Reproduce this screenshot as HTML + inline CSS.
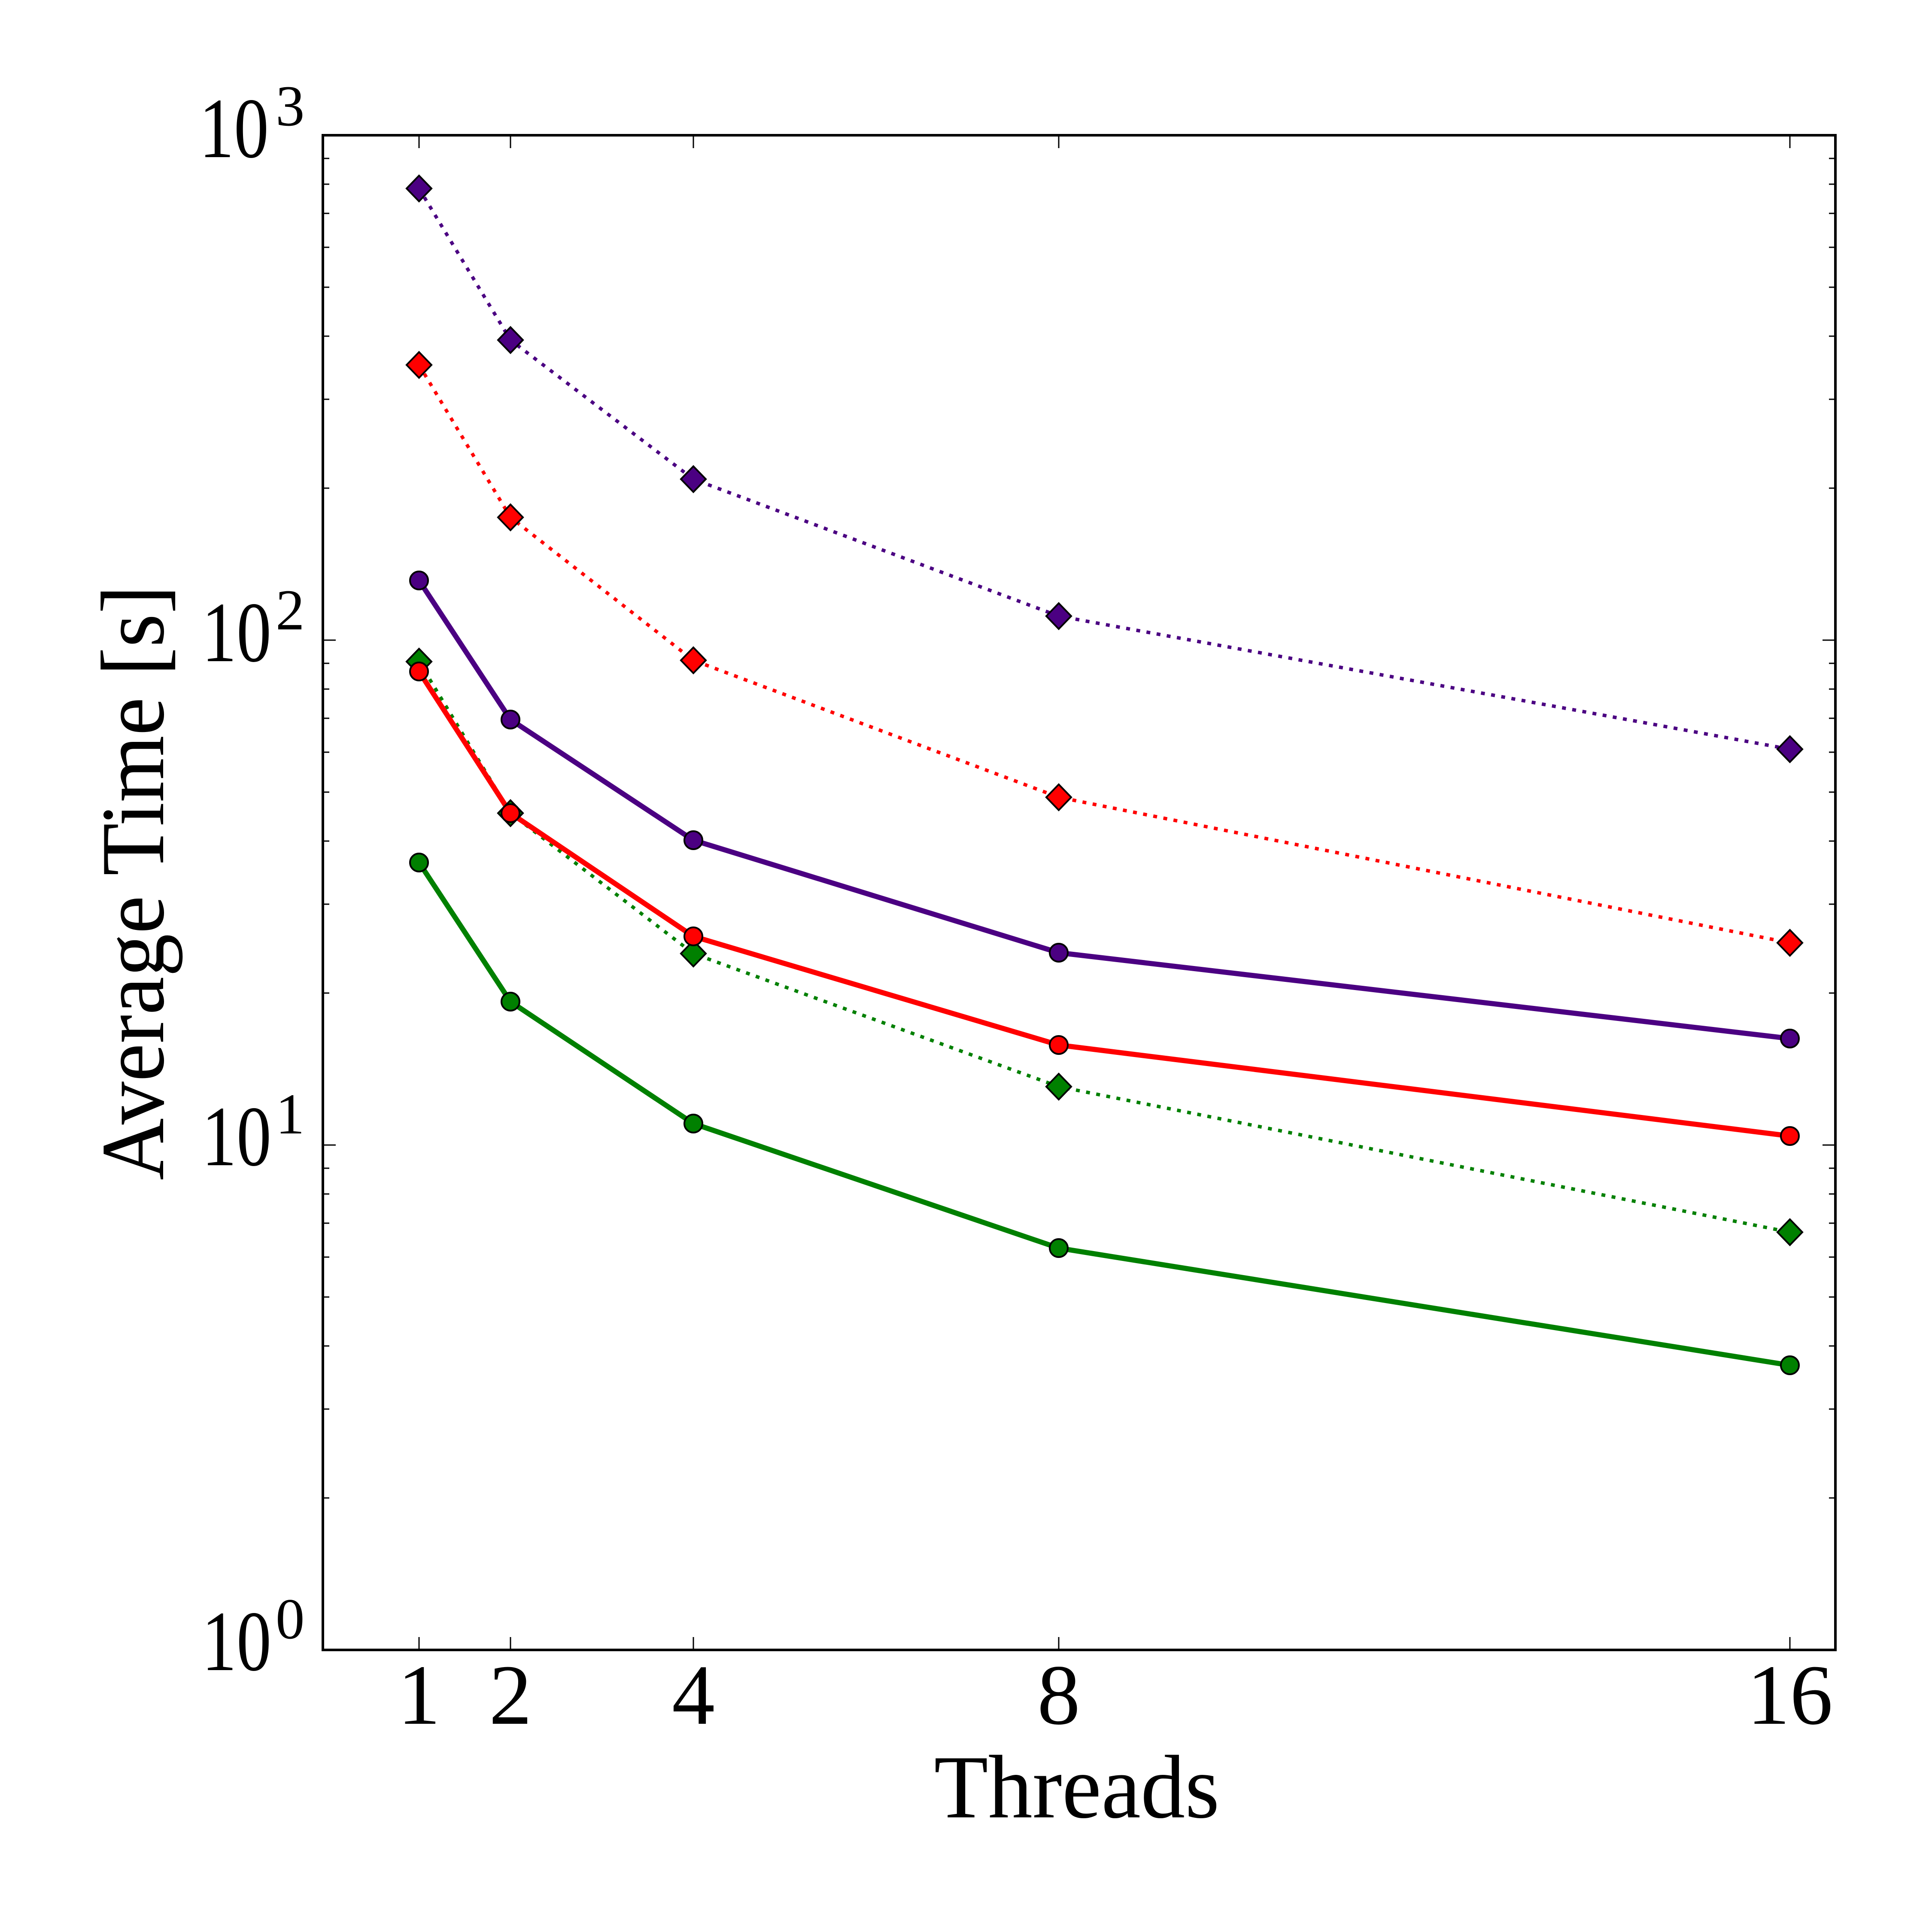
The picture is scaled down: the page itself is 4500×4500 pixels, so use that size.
<!DOCTYPE html>
<html><head><meta charset="utf-8"><style>html,body{margin:0;padding:0;background:#fff}svg{display:block}</style></head>
<body>
<svg xmlns="http://www.w3.org/2000/svg" width="4500" height="4500" viewBox="0 0 4500 4500">
<rect width="4500" height="4500" fill="#fff"/>
<defs>
<path id="dm" d="M0,-30 L29,0 L0,30 L-29,0 Z"/>
</defs>
<g fill="none" stroke-linejoin="round">
<polyline points="976,439 1189,792 1615,1116 2466,1435 4169,1745" stroke="#4B0082" stroke-width="8" stroke-dasharray="9,15"/>
<polyline points="976,850 1189,1205 1615,1538 2466,1857 4169,2196" stroke="#FF0000" stroke-width="8" stroke-dasharray="9,15"/>
<polyline points="976,1541 1189,1894 1615,2221 2466,2531 4169,2870" stroke="#008000" stroke-width="8" stroke-dasharray="9,15"/>
<polyline points="976,1352 1189,1676 1615,1957 2466,2219 4169,2419" stroke="#4B0082" stroke-width="12"/>
<polyline points="976,1564 1189,1894 1615,2181 2466,2434 4169,2646" stroke="#FF0000" stroke-width="12"/>
<polyline points="976,2009 1189,2333 1615,2617 2466,2907 4169,3180" stroke="#008000" stroke-width="12"/>
</g>
<g stroke="#000" stroke-width="4">
<g fill="#4B0082"><use href="#dm" x="976" y="439"/><use href="#dm" x="1189" y="792"/><use href="#dm" x="1615" y="1116"/><use href="#dm" x="2466" y="1435"/><use href="#dm" x="4169" y="1745"/></g>
<g fill="#FF0000"><use href="#dm" x="976" y="850"/><use href="#dm" x="1189" y="1205"/><use href="#dm" x="1615" y="1538"/><use href="#dm" x="2466" y="1857"/><use href="#dm" x="4169" y="2196"/></g>
<g fill="#008000"><use href="#dm" x="976" y="1541"/><use href="#dm" x="1189" y="1894"/><use href="#dm" x="1615" y="2221"/><use href="#dm" x="2466" y="2531"/><use href="#dm" x="4169" y="2870"/></g>
<g fill="#4B0082"><circle cx="976" cy="1352" r="21"/><circle cx="1189" cy="1676" r="21"/><circle cx="1615" cy="1957" r="21"/><circle cx="2466" cy="2219" r="21"/><circle cx="4169" cy="2419" r="21"/></g>
<g fill="#FF0000"><circle cx="976" cy="1564" r="21"/><circle cx="1189" cy="1894" r="21"/><circle cx="1615" cy="2181" r="21"/><circle cx="2466" cy="2434" r="21"/><circle cx="4169" cy="2646" r="21"/></g>
<g fill="#008000"><circle cx="976" cy="2009" r="21"/><circle cx="1189" cy="2333" r="21"/><circle cx="1615" cy="2617" r="21"/><circle cx="2466" cy="2907" r="21"/><circle cx="4169" cy="3180" r="21"/></g>
</g>
<g stroke="#000" stroke-width="3">
<path d="M976,3843v-30M1189,3843v-30M1615,3843v-30M2466,3843v-30M4169,3843v-30M976,315v30M1189,315v30M1615,315v30M2466,315v30M4169,315v30"/>
<path d="M752,315h30M752,1491h30M752,2667h30M752,3843h30M4275,315h-30M4275,1491h-30M4275,2667h-30M4275,3843h-30"/>
<path d="M752,3489h15M752,3282h15M752,3135h15M752,3021h15M752,2928h15M752,2849h15M752,2781h15M752,2721h15M752,2313h15M752,2106h15M752,1959h15M752,1845h15M752,1752h15M752,1673h15M752,1605h15M752,1545h15M752,1137h15M752,930h15M752,783h15M752,669h15M752,576h15M752,497h15M752,429h15M752,369h15"/>
<path d="M4275,3489h-15M4275,3282h-15M4275,3135h-15M4275,3021h-15M4275,2928h-15M4275,2849h-15M4275,2781h-15M4275,2721h-15M4275,2313h-15M4275,2106h-15M4275,1959h-15M4275,1845h-15M4275,1752h-15M4275,1673h-15M4275,1605h-15M4275,1545h-15M4275,1137h-15M4275,930h-15M4275,783h-15M4275,669h-15M4275,576h-15M4275,497h-15M4275,429h-15M4275,369h-15"/>
</g>
<rect x="752" y="315" width="3523" height="3528" fill="none" stroke="#000" stroke-width="6"/>
<g font-family="Liberation Serif, serif" fill="#000">
<g font-size="200">
<text x="464" y="366" textLength="162" lengthAdjust="spacingAndGlyphs">10</text>
<text x="470" y="1540" textLength="162" lengthAdjust="spacingAndGlyphs">10</text>
<text x="470" y="2714" textLength="162" lengthAdjust="spacingAndGlyphs">10</text>
<text x="470" y="3890" textLength="162" lengthAdjust="spacingAndGlyphs">10</text>
</g>
<g font-size="135">
<text x="642" y="292">3</text>
<text x="642" y="1466">2</text>
<text x="642" y="2640">1</text>
<text x="642" y="3816">0</text>
</g>
<g font-size="200" text-anchor="middle">
<text x="976" y="4015">1</text>
<text x="1189" y="4015">2</text>
<text x="1615" y="4015">4</text>
<text x="2466" y="4015">8</text>
<text x="4169" y="4015">16</text>
</g>
<text x="2508" y="4233" font-size="210" text-anchor="middle" textLength="665" lengthAdjust="spacingAndGlyphs">Threads</text>
<text transform="translate(380,2056) rotate(-90)" font-size="210" text-anchor="middle" textLength="1386" lengthAdjust="spacingAndGlyphs">Average Time [s]</text>
</g>
</svg>
</body></html>
